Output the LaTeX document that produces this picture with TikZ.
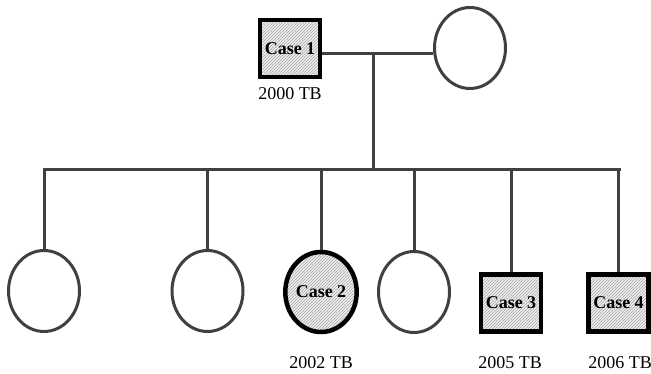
\documentclass[tikz,border=0pt]{standalone}
\usepackage{fontspec}
\setmainfont{Liberation Serif}
\usetikzlibrary{shapes.geometric,patterns}
\definecolor{ln}{HTML}{404040}
\tikzset{
  link/.style={draw=ln,line width=3pt},
  emptyf/.style={ellipse,draw=ln,line width=3pt,minimum width=71pt,minimum height=81pt,inner sep=0pt},
  hatch/.style={preaction={fill=gray!12},pattern={north east lines},pattern color=gray!70,draw=black,line width=4.5pt,font=\bfseries\fontsize{18}{18}\selectfont,inner sep=0pt},
  casem/.style={hatch,rectangle,minimum width=60pt,minimum height=57pt},
  casef/.style={hatch,ellipse,minimum width=70pt,minimum height=80pt},
  yr/.style={font=\fontsize{18}{18}\selectfont,anchor=base,inner sep=0pt}
}
\begin{document}
\begin{tikzpicture}[x=1pt,y=-1pt]
\useasboundingbox (0,0) rectangle (651,374);
% parents
\node[casem] (c1) at (290,48.5) {Case 1};
\node[emptyf] (w) at (470,48) {};
\node[yr] (t1) at (290,100) {2000 TB};
\coordinate (m) at (373,54);
\coordinate (sl) at (44,170);
\coordinate (sr) at (619,170);
% children
\node[emptyf] (k1) at (44,291) {};
\node[emptyf] (k2) at (207.5,291) {};
\node[casef] (c2) at (321,292) {Case 2};
\node[emptyf] (k4) at (414,292) {};
\node[casem] (c3) at (511,303) {Case 3};
\node[casem] (c4) at (618.5,303) {Case 4};
\node[yr] (t2) at (321,368) {2002 TB};
\node[yr] (t3) at (510,368) {2005 TB};
\node[yr] (t4) at (620,368) {2006 TB};
% connectors
\draw[link] (c1.east|-m) -- (w.west|-m);
\draw[link] (m) -- (m|-sl);
\draw[link,line cap=rect] (sl) -- (sr);
\foreach \n in {k1,k2,c2,k4,c3,c4}{
  \draw[link] (\n.north|-sl) -- (\n.north);
}
\end{tikzpicture}
\end{document}
